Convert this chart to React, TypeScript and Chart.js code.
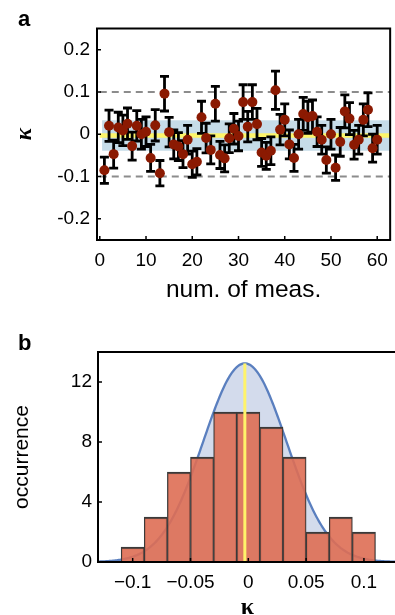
import React, { useEffect, useRef } from "react";
import { Chart, registerables } from "chart.js";

Chart.register(...registerables);

// ---------- Panel a data ----------
const kappaValues = [
  -0.085, 0.02, -0.047, 0.016, 0.009, 0.025, -0.028, 0.02, 0.0, 0.006,
  -0.056, 0.021, -0.092, 0.096, 0.005, -0.024, -0.029, -0.047, -0.013, -0.071,
  -0.065, 0.04, -0.009, -0.037, 0.072, -0.049, -0.057, -0.0095, 0.013, -0.004,
  0.076, 0.018, 0.076, 0.024, -0.043, -0.051, -0.039, 0.104, 0.011, 0.034,
  -0.024, -0.056, 0.0, 0.048, 0.04, 0.043, 0.006, -0.013, -0.061, 0.0,
  -0.079, -0.018, 0.054, 0.037, -0.025, -0.013, 0.034, 0.058, -0.033, -0.013,
];
const kappaErrors = [
  0.031, 0.037, 0.033, 0.036, 0.036, 0.037, 0.033, 0.036, 0.035, 0.035,
  0.032, 0.037, 0.03, 0.041, 0.035, 0.034, 0.033, 0.032, 0.034, 0.031,
  0.031, 0.038, 0.035, 0.033, 0.041, 0.032, 0.032, 0.034, 0.036, 0.035,
  0.041, 0.036, 0.041, 0.037, 0.033, 0.032, 0.033, 0.045, 0.036, 0.038,
  0.034, 0.032, 0.035, 0.039, 0.038, 0.038, 0.035, 0.034, 0.031, 0.035,
  0.03, 0.034, 0.039, 0.038, 0.034, 0.034, 0.038, 0.04, 0.033, 0.034,
];
const measNumbers = kappaValues.map((_, i) => i + 1);
const meanKappa = -0.003;
const sigmaKappa = 0.036;
const dashedLevels = [-0.1, 0.1];
const aXTicks = [0, 10, 20, 30, 40, 50, 60];
const aYTicks = [-0.2, -0.1, 0, 0.1, 0.2];
const aYTickLabels = ["-0.2", "-0.1", "0", "0.1", "0.2"];

// ---------- Panel b data ----------
const binCenters = [-0.1, -0.08, -0.06, -0.04, -0.02, 0, 0.02, 0.04, 0.06, 0.08, 0.1];
const binCounts = [1, 3, 6, 7, 10, 10, 9, 7, 2, 3, 2];
const bXTicks = [-0.1, -0.05, 0, 0.05, 0.1];
const bXTickLabels = ["−0.1", "−0.05", "0", "0.05", "0.1"];
const bYTicks = [0, 4, 8, 12];
const bYTickLabels = ["0", "4", "8", "12"];
const fitPeak = 13.24; // Gaussian fit amplitude (mean/sigma above)

const SANS = '"Liberation Sans", Arial, sans-serif';
const SERIF = '"Liberation Serif", "Times New Roman", serif';

// Gaussian fit curve samples (model curve from the fit parameters)
const gaussX: number[] = [];
for (let k = -0.13; k <= 0.1286; k += 0.001) gaussX.push(k);
const gaussPoints = gaussX.map((k) => ({
  x: k,
  y: fitPeak * Math.exp(-((k - meanKappa) ** 2) / (2 * sigmaKappa * sigmaKappa)),
}));

const labelFor = (vals: number[], labels: string[]) => (v: any) => {
  const idx = vals.findIndex((t) => Math.abs(t - Number(v)) < 1e-9);
  return idx >= 0 ? labels[idx] : "";
};

const framePlugin = {
  id: "frame",
  afterDraw(chart: any) {
    const { ctx, chartArea } = chart;
    const { left, right, top, bottom } = chartArea;
    const x = chart.scales.x;
    const y = chart.scales.y;
    ctx.save();
    ctx.strokeStyle = "#000";
    ctx.lineWidth = 2;
    ctx.beginPath();
    ctx.rect(left, top, right - left, bottom - top);
    ctx.stroke();
    ctx.lineWidth = 1.5;
    ctx.beginPath();
    x.ticks.forEach((t: any) => {
      const px = x.getPixelForValue(t.value);
      ctx.moveTo(px, bottom);
      ctx.lineTo(px, bottom - 4);
    });
    y.ticks.forEach((t: any) => {
      const py = y.getPixelForValue(t.value);
      ctx.moveTo(left, py);
      ctx.lineTo(left + 4, py);
    });
    ctx.stroke();
    ctx.restore();
  },
};

const panelAPlugin = {
  id: "panelA",
  beforeDatasetsDraw(chart: any) {
    const { ctx, chartArea } = chart;
    const x = chart.scales.x;
    const y = chart.scales.y;
    ctx.save();
    ctx.beginPath();
    ctx.rect(chartArea.left, chartArea.top, chartArea.right - chartArea.left, chartArea.bottom - chartArea.top);
    ctx.clip();
    // sigma band
    const yTop = y.getPixelForValue(meanKappa + sigmaKappa);
    const yBot = y.getPixelForValue(meanKappa - sigmaKappa);
    const xs = x.getPixelForValue(0.5);
    ctx.fillStyle = "#c6dce8";
    ctx.fillRect(xs, yTop, chartArea.right - xs, yBot - yTop);
    // mean line
    const x0 = x.getPixelForValue(0);
    ctx.strokeStyle = "#fdf56a";
    ctx.lineWidth = 4.5;
    ctx.beginPath();
    ctx.moveTo(x0, y.getPixelForValue(meanKappa));
    ctx.lineTo(chartArea.right, y.getPixelForValue(meanKappa));
    ctx.stroke();
    // dashed lines
    ctx.strokeStyle = "#8c8c8c";
    ctx.lineWidth = 2;
    ctx.setLineDash([7, 5]);
    dashedLevels.forEach((lv) => {
      const py = y.getPixelForValue(lv);
      ctx.beginPath();
      ctx.moveTo(x0, py);
      ctx.lineTo(chartArea.right, py);
      ctx.stroke();
    });
    ctx.setLineDash([]);
    // error bars
    ctx.strokeStyle = "#000";
    ctx.lineWidth = 2.8;
    ctx.beginPath();
    kappaValues.forEach((k, i) => {
      const px = x.getPixelForValue(measNumbers[i]);
      const p1 = y.getPixelForValue(k + kappaErrors[i]);
      const p2 = y.getPixelForValue(k - kappaErrors[i]);
      ctx.moveTo(px, p1);
      ctx.lineTo(px, p2);
      ctx.moveTo(px - 4.5, p1);
      ctx.lineTo(px + 4.5, p1);
      ctx.moveTo(px - 4.5, p2);
      ctx.lineTo(px + 4.5, p2);
    });
    ctx.stroke();
    ctx.restore();
  },
};

function configA(): any {
  return {
    type: "scatter",
    data: {
      datasets: [
        {
          data: kappaValues.map((k, i) => ({ x: measNumbers[i], y: k })),
          pointRadius: 5,
          pointBackgroundColor: "#8b1a02",
          pointBorderWidth: 0,
          showLine: false,
        },
      ],
    },
    options: {
      responsive: false,
      animation: false,
      devicePixelRatio: 1,
      layout: { padding: { top: 28.5, left: 0, right: 0, bottom: 0 } },
      plugins: { legend: { display: false }, tooltip: { enabled: false } },
      scales: {
        x: {
          type: "linear",
          min: -0.6,
          max: 62.8,
          afterFit: (s: any) => { s.height = 70; },
          afterBuildTicks: (s: any) => { s.ticks = aXTicks.map((v) => ({ value: v })); },
          grid: { display: false, drawTicks: false },
          border: { display: false },
          ticks: { font: { family: SANS, size: 19 }, color: "#000", padding: 9, maxRotation: 0, autoSkip: false },
          title: {
            display: true,
            text: "num. of meas.",
            color: "#000",
            font: { family: SANS, size: 24.5 },
            padding: { top: 0, bottom: 5 },
          },
        },
        y: {
          type: "linear",
          min: -0.25,
          max: 0.25,
          afterFit: (s: any) => { s.width = 97; },
          afterBuildTicks: (s: any) => { s.ticks = aYTicks.map((v) => ({ value: v })); },
          grid: { display: false, drawTicks: false },
          border: { display: false },
          ticks: {
            font: { family: SANS, size: 19 },
            color: "#000",
            padding: 7,
            autoSkip: false,
            callback: labelFor(aYTicks, aYTickLabels),
          },
          title: {
            display: true,
            text: "κ",
            color: "#000",
            font: { family: SERIF, size: 23, style: "italic", weight: "bold" },
            padding: { top: 11, bottom: 0 },
          },
        },
      },
    },
    plugins: [panelAPlugin, framePlugin],
  };
}

function configB(): any {
  return {
    type: "bar",
    data: {
      datasets: [
        {
          type: "line",
          data: gaussPoints,
          borderColor: "#5a7fbf",
          borderWidth: 2.3,
          backgroundColor: "#d3dbec",
          fill: "origin",
          pointRadius: 0,
          tension: 0,
          order: 3,
        },
        {
          type: "bar",
          data: binCenters.map((c, i) => ({ x: c, y: binCounts[i] })),
          backgroundColor: "rgba(222,110,84,0.9)",
          borderColor: "#3a3a3a",
          borderWidth: { top: 2, left: 1.2, right: 1.2, bottom: 0 },
          barPercentage: 1,
          categoryPercentage: 1,
          order: 2,
        },
        {
          type: "line",
          data: [
            { x: meanKappa, y: 0 },
            { x: meanKappa, y: fitPeak },
          ],
          borderColor: "#fff36a",
          borderWidth: 3,
          pointRadius: 0,
          fill: false,
          order: 1,
        },
      ],
    },
    options: {
      responsive: false,
      animation: false,
      devicePixelRatio: 1,
      layout: { padding: { top: 42, left: 0, right: 0, bottom: 0 } },
      plugins: { legend: { display: false }, tooltip: { enabled: false } },
      scales: {
        x: {
          type: "linear",
          min: -0.13,
          max: 0.1286,
          offset: false,
          afterFit: (s: any) => { s.height = 63; },
          afterBuildTicks: (s: any) => { s.ticks = bXTicks.map((v) => ({ value: v })); },
          grid: { display: false, drawTicks: false, offset: false },
          border: { display: false },
          ticks: {
            font: { family: SANS, size: 19 },
            color: "#000",
            padding: 9,
            maxRotation: 0,
            autoSkip: false,
            callback: labelFor(bXTicks, bXTickLabels),
          },
          title: {
            display: true,
            text: "κ",
            color: "#000",
            font: { family: SERIF, size: 24, weight: "bold" },
            padding: { top: 0, bottom: 3 },
          },
        },
        y: {
          type: "linear",
          min: 0,
          max: 14,
          afterFit: (s: any) => { s.width = 98; },
          afterBuildTicks: (s: any) => { s.ticks = bYTicks.map((v) => ({ value: v })); },
          grid: { display: false, drawTicks: false },
          border: { display: false },
          ticks: {
            font: { family: SANS, size: 19 },
            color: "#000",
            padding: 6,
            autoSkip: false,
            callback: labelFor(bYTicks, bYTickLabels),
          },
          title: {
            display: true,
            text: "occurrence",
            color: "#000",
            font: { family: SANS, size: 21 },
            padding: { top: 10, bottom: 0 },
          },
        },
      },
    },
    plugins: [framePlugin],
  };
}

export default function App() {
  const refA = useRef<HTMLCanvasElement>(null);
  const refB = useRef<HTMLCanvasElement>(null);
  useEffect(() => {
    const a = new Chart(refA.current as HTMLCanvasElement, configA());
    const b = new Chart(refB.current as HTMLCanvasElement, configB());
    return () => {
      a.destroy();
      b.destroy();
    };
  }, []);
  const letter: React.CSSProperties = {
    position: "absolute",
    left: 18,
    fontFamily: SANS,
    fontWeight: "bold",
    fontSize: 22,
    lineHeight: "22px",
    color: "#000",
  };
  return (
    <div style={{ position: "fixed", left: 0, top: 0, width: 395, height: 615, overflow: "hidden", background: "#fff" }}>
      <canvas ref={refA} width={397} height={310} style={{ position: "absolute", left: 0, top: 0, width: 397, height: 310 }} />
      <canvas ref={refB} width={397} height={315} style={{ position: "absolute", left: 0, top: 310, width: 397, height: 315 }} />
      <div style={{ ...letter, top: 8 }}>a</div>
      <div style={{ ...letter, top: 332 }}>b</div>
    </div>
  );
}
